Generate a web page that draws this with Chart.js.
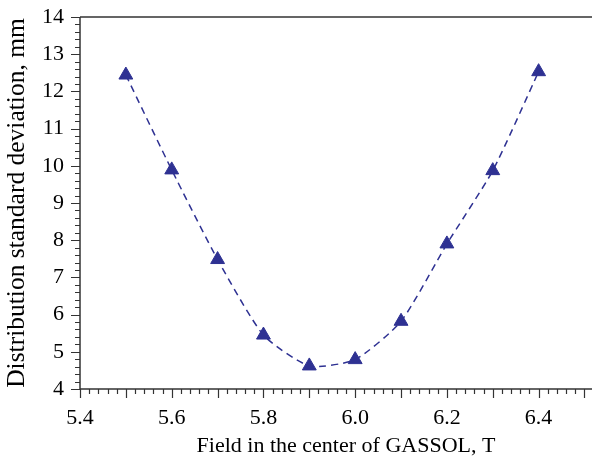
<!DOCTYPE html>
<html>
<head>
<meta charset="utf-8">
<script src="https://cdn.jsdelivr.net/npm/chart.js@4/dist/chart.umd.min.js"></script>
<style>
  html, body { margin: 0; padding: 0; background: #fff; overflow: hidden; }
  #wrap { width: 621px; height: 460px; }
</style>
</head>
<body>
<div id="wrap"><canvas id="chart"></canvas></div>
<script>
const fieldT = [5.5, 5.6, 5.7, 5.8, 5.9, 6.0, 6.1, 6.2, 6.3, 6.4];
const sigmaMm = [12.44, 9.89, 7.48, 5.45, 4.62, 4.79, 5.82, 7.90, 9.87, 12.53];
const xTicks = [5.4, 5.6, 5.8, 6.0, 6.2, 6.4];
const yTicks = [4, 5, 6, 7, 8, 9, 10, 11, 12, 13, 14];

const markColor = "#2e3192";
const axisColor = "#333";
const serif = "'Liberation Serif', 'Times New Roman', serif";

// ticks drawn by hand: long ones on 0.1 / 1, short ones in between
const axisTicks = {
  id: "axisTicks",
  afterDraw(chart) {
    const { ctx, chartArea: a, scales: { x, y } } = chart;
    ctx.save();
    ctx.strokeStyle = axisColor;
    ctx.lineWidth = 1.5;
    ctx.beginPath();
    ctx.moveTo(a.left, a.top);
    ctx.lineTo(a.right, a.top);
    ctx.moveTo(a.left, a.top);
    ctx.lineTo(a.left, a.bottom);
    ctx.lineTo(a.right, a.bottom);
    ctx.stroke();

    ctx.lineWidth = 1.2;
    ctx.beginPath();
    for (let i = 0; ; i++) {
      const v = x.min + i * 0.02;
      if (v > x.max + 1e-9) break;
      const px = Math.round(x.getPixelForValue(v)) + 0.5;
      const len = i % 5 === 0 ? 9 : 5;
      ctx.moveTo(px, a.bottom);
      ctx.lineTo(px, a.bottom + len);
    }
    for (let i = 0; ; i++) {
      const v = y.min + i * 0.2;
      if (v > y.max + 1e-9) break;
      const py = Math.round(y.getPixelForValue(v)) + 0.5;
      const len = i % 5 === 0 ? 9 : 5;
      ctx.moveTo(a.left, py);
      ctx.lineTo(a.left - len, py);
    }
    ctx.stroke();
    ctx.restore();
  }
};

new Chart(document.getElementById("chart"), {
  type: "line",
  data: {
    labels: fieldT,
    datasets: [{
      data: fieldT.map((f, i) => ({ x: f, y: sigmaMm[i] })),
      borderColor: markColor,
      backgroundColor: markColor,
      borderWidth: 1.5,
      borderDash: [7, 5],
      tension: 0.2,
      pointStyle: "triangle",
      pointRadius: 8,
      pointBorderWidth: 1,
      pointBackgroundColor: markColor,
      pointBorderColor: markColor
    }]
  },
  options: {
    responsive: true,
    maintainAspectRatio: false,
    animation: false,
    layout: { padding: { top: 17, right: 0, left: 0, bottom: 0 } },
    plugins: { legend: { display: false }, tooltip: { enabled: false } },
    scales: {
      x: {
        type: "linear",
        min: 5.4,
        max: 6.56,
        grid: { display: false, drawTicks: false },
        border: { display: false },
        afterBuildTicks: (s) => { s.ticks = xTicks.map(v => ({ value: v })); },
        afterFit: (s) => { s.height = 71; s.paddingLeft = 0; s.paddingRight = 0; },
        ticks: {
          padding: 16,
          color: "#000",
          font: { family: serif, size: 22 },
          callback: (v) => Number(v).toFixed(1)
        },
        title: {
          display: true,
          text: "Field in the center of GASSOL, T",
          color: "#000",
          font: { family: serif, size: 22 },
          padding: { top: 0, bottom: 1 }
        }
      },
      y: {
        min: 4,
        max: 14,
        grid: { display: false, drawTicks: false },
        border: { display: false },
        afterBuildTicks: (s) => { s.ticks = yTicks.map(v => ({ value: v })); },
        afterFit: (s) => { s.width = 80; s.paddingTop = 0; s.paddingBottom = 0; },
        ticks: {
          padding: 16,
          color: "#000",
          font: { family: serif, size: 22 }
        },
        title: {
          display: true,
          text: "Distribution standard deviation, mm",
          color: "#000",
          font: { family: serif, size: 25.5 },
          padding: { top: 2, bottom: 0 }
        }
      }
    }
  },
  plugins: [axisTicks]
});
</script>
</body>
</html>
